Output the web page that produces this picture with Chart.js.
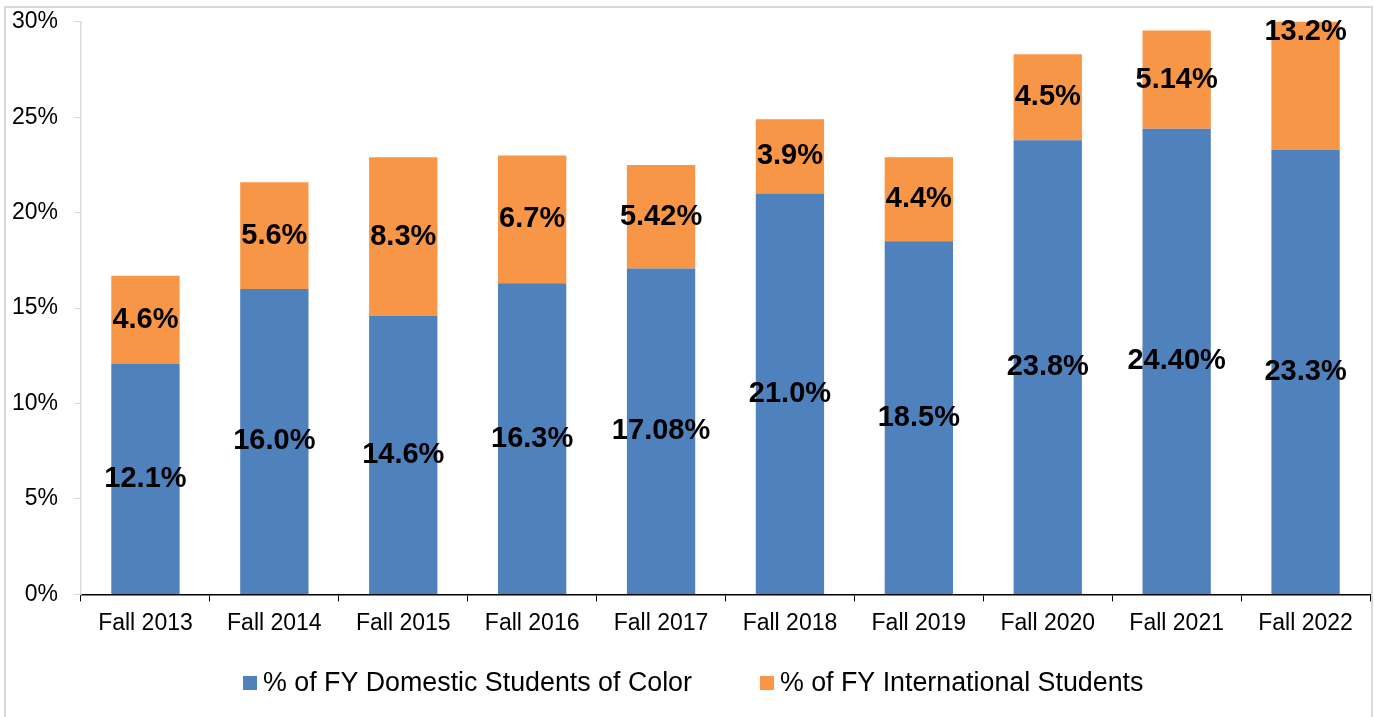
<!DOCTYPE html>
<html>
<head>
<meta charset="utf-8">
<script src="https://cdn.jsdelivr.net/npm/chart.js@4/dist/chart.umd.min.js"></script>
<style>
  html, body { margin: 0; padding: 0; background: #fff; overflow: hidden; }
  #frame { position: absolute; left: 4px; top: 6px; width: 1369px; height: 720px; border: 2px solid #d9d9d9; box-sizing: border-box; }
  #wrap { position: absolute; left: 0; top: -8px; width: 1375px; height: 725px; }
</style>
</head>
<body>
<div id="frame"></div>
<div id="wrap"><canvas id="c" width="1375" height="725"></canvas></div>
<script>
const categories = ["Fall 2013","Fall 2014","Fall 2015","Fall 2016","Fall 2017","Fall 2018","Fall 2019","Fall 2020","Fall 2021","Fall 2022"];
const domesticValues = [12.1, 16.0, 14.6, 16.3, 17.08, 21.0, 18.5, 23.8, 24.40, 23.3];
const domesticLabels = ["12.1%","16.0%","14.6%","16.3%","17.08%","21.0%","18.5%","23.8%","24.40%","23.3%"];
const internationalValues = [4.6, 5.6, 8.3, 6.7, 5.42, 3.9, 4.4, 4.5, 5.14, 13.2];
const internationalLabels = ["4.6%","5.6%","8.3%","6.7%","5.42%","3.9%","4.4%","4.5%","5.14%","13.2%"];
const seriesNames = ["% of FY Domestic Students of Color", "% of FY International Students"];
const yTickStep = 5;
const yMax = 30;

const FONT = "'Liberation Sans', Arial, sans-serif";

const labelPlugin = {
  id: 'segLabels',
  afterDatasetsDraw(chart) {
    const ctx = chart.ctx;
    const area = chart.chartArea;
    ctx.save();
    ctx.font = "bold 29px " + FONT;
    ctx.fillStyle = "#000";
    ctx.textAlign = "center";
    ctx.textBaseline = "middle";
    chart.data.datasets.forEach((ds, di) => {
      const meta = chart.getDatasetMeta(di);
      meta.data.forEach((bar, i) => {
        let y = (bar.y + bar.base) / 2;
        if (y < area.top + 10) y = area.top + 10;
        ctx.fillText(ds.segLabels[i], bar.x, y);
      });
    });
    ctx.restore();
  }
};

const legendPlugin = {
  id: 'customLegend',
  afterDraw(chart) {
    const ctx = chart.ctx;
    const box = 14, boxGap = 6, itemGap = 68;
    const cy = 691;
    ctx.save();
    ctx.font = "26.8px " + FONT;
    ctx.textBaseline = "middle";
    ctx.textAlign = "left";
    let x = 243;
    chart.data.datasets.forEach(ds => {
      const w = ctx.measureText(ds.label).width;
      ctx.fillStyle = ds.backgroundColor;
      ctx.fillRect(x, cy - box / 2, box, box);
      ctx.fillStyle = "#000";
      ctx.fillText(ds.label, x + box + boxGap, cy + 1);
      x += box + boxGap + w + itemGap;
    });
    ctx.restore();
  }
};

new Chart(document.getElementById('c'), {
  type: 'bar',
  data: {
    labels: categories,
    datasets: [
      { label: seriesNames[0], data: domesticValues, segLabels: domesticLabels, backgroundColor: '#4F81BD', barPercentage: 0.53, categoryPercentage: 1.0 },
      { label: seriesNames[1], data: internationalValues, segLabels: internationalLabels, backgroundColor: '#F79646', barPercentage: 0.53, categoryPercentage: 1.0 }
    ]
  },
  options: {
    responsive: false,
    animation: false,
    layout: { padding: { left: 12, right: 5, top: 0, bottom: 72 } },
    plugins: {
      tooltip: { enabled: false },
      legend: { display: false }
    },
    scales: {
      x: {
        stacked: true,
        grid: { drawOnChartArea: false, color: '#000', tickLength: 7, offset: true },
        border: { color: '#000', width: 1.5 },
        ticks: { font: { family: FONT, size: 23 }, color: '#000', padding: 8, maxRotation: 0 }
      },
      y: {
        stacked: true,
        min: 0, max: yMax,
        afterFit: s => { s.width = 69; },
        grid: { drawOnChartArea: false, color: '#d9d9d9', tickLength: 7 },
        border: { color: '#d9d9d9', width: 1.5 },
        ticks: { stepSize: yTickStep, font: { family: FONT, size: 23 }, color: '#000', padding: 16, callback: v => v + '%' }
      }
    }
  },
  plugins: [labelPlugin, legendPlugin]
});
</script>
</body>
</html>
